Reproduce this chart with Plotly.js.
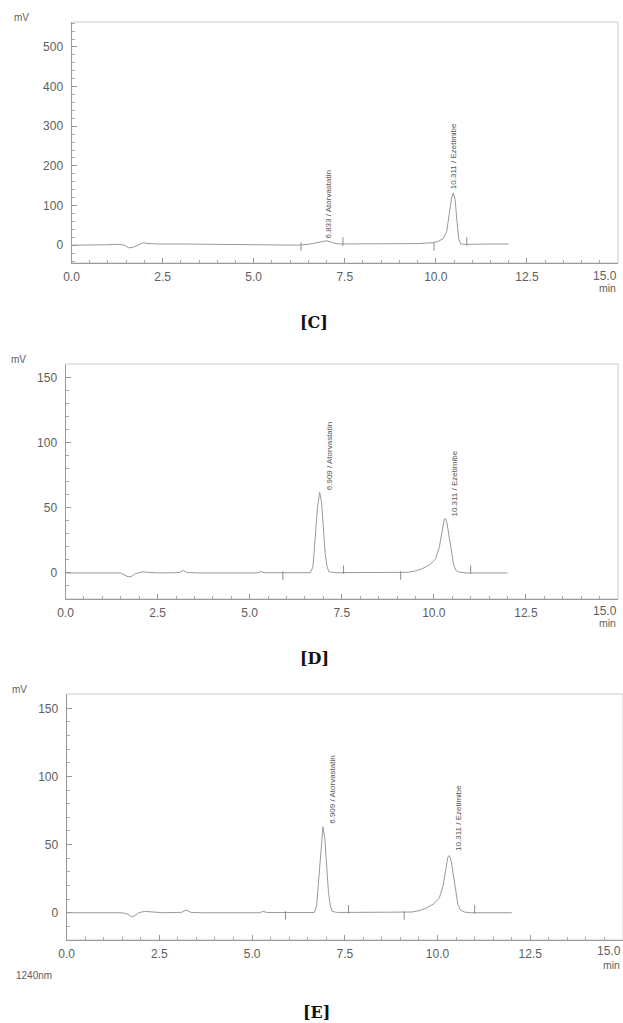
<!DOCTYPE html>
<html>
<head>
<meta charset="utf-8">
<script src="https://cdn.plot.ly/plotly-3.0.1.min.js"></script>
<style>html,body{margin:0;padding:0;background:#fff;}#chart{width:623px;height:1023px;}</style>
</head>
<body>
<div id="chart"></div>
<script>
// ---------- DATA ----------
const xTickVals = [0, 2.5, 5, 7.5, 10, 12.5, 15];
const xTickText = ['0.0', '2.5', '5.0', '7.5', '10.0', '12.5', '15.0'];

// Panel [C]
const timeC = [0, 0.5, 1.0, 1.15, 1.3, 1.45, 1.58, 1.7, 1.85, 1.97, 2.1, 2.4, 3.0, 4.0, 4.5, 5.5, 6.2, 6.5, 6.7, 6.85, 7.0, 7.1, 7.2, 7.35, 7.6, 8.5, 9.5, 9.9, 10.05, 10.2, 10.3, 10.37, 10.43, 10.48, 10.53, 10.58, 10.63, 10.68, 10.8, 11.5, 12.0];
const signalC = [0, 0, 1, 2, 2, 0, -7, -5, 2, 6, 4, 3, 3, 2, 1, 1, 0, 2, 6, 9, 11, 9, 5, 3, 3, 3, 4, 6, 9, 16, 35, 80, 118, 132, 115, 60, 15, 3, 2, 3, 3];
const markTimeC = [6.3, 7.45, 9.95, 10.85];
const markLevelC = [-4, 9, -4, 9];
const peakTimeC = [6.95, 10.48];
const peakHeightC = [11, 132];
const peakLabelC = ['6.833 / Atorvastatin', '10.311 / Ezetimibe'];

// Panel [D]
const timeD = [0, 1.5, 1.7, 1.8, 1.9, 2.1, 2.3, 2.6, 3.1, 3.2, 3.3, 3.6, 5.2, 5.3, 5.4, 5.9, 6.1, 6.3, 6.65, 6.72, 6.78, 6.84, 6.9, 6.95, 7.0, 7.05, 7.1, 7.15, 7.3, 9.1, 9.3, 9.5, 9.7, 9.9, 10.05, 10.15, 10.22, 10.28, 10.31, 10.36, 10.42, 10.48, 10.54, 10.6, 10.7, 10.9, 12.0];
const signalD = [0, 0, -3, -2.5, -0.5, 0.8, 0.3, 0, 0.3, 2, 0.3, 0, 0, 1, 0.2, 0, 0.4, 0.2, 0.2, 5, 25, 50, 62, 55, 35, 15, 5, 1, 0.2, 0, 0.5, 1.5, 3.5, 6.5, 11, 20, 32, 41, 42, 38, 27, 15, 6, 2, 0.5, 0, 0];
const markTimeD = [5.9, 7.55, 9.1, 11.0];
const markLevelD = [-2, 2.5, -2, 2.5];
const peakTimeD = [6.909, 10.311];
const peakHeightD = [62, 42];
const peakLabelD = ['6.909 / Atorvastatin', '10.311 / Ezetimibe'];

// Panel [E]
const timeE = [0, 1.5, 1.65, 1.75, 1.85, 1.95, 2.1, 2.3, 2.6, 3.1, 3.22, 3.35, 3.6, 5.2, 5.3, 5.4, 5.9, 6.1, 6.3, 6.68, 6.74, 6.8, 6.86, 6.91, 6.96, 7.01, 7.06, 7.11, 7.16, 7.3, 9.1, 9.3, 9.5, 9.7, 9.9, 10.05, 10.15, 10.22, 10.28, 10.32, 10.37, 10.43, 10.49, 10.55, 10.62, 10.72, 10.9, 12.0];
const signalE = [0, 0, -1, -3, -2, 0, 1, 0.4, 0, 0.3, 2, 0.3, 0, 0, 1, 0.2, 0, 0.4, 0.2, 0.2, 5, 25, 50, 63, 55, 35, 15, 5, 1, 0.2, 0, 0.5, 1.5, 3.5, 6.5, 11, 20, 32, 41, 42, 38, 27, 15, 6, 2, 0.5, 0, 0];
const markTimeE = [5.9, 7.6, 9.1, 11.0];
const markLevelE = [-2, 2.5, -2, 2.5];
const peakTimeE = [6.91, 10.32];
const peakHeightE = [63, 42];
const peakLabelE = ['6.909 / Atorvastatin', '10.311 / Ezetimibe'];

const panelTitles = ['[C]', '[D]', '[E]'];
const yUnit = 'mV';
const xUnit = 'min';
const detector = '1240nm';

// ---------- LAYOUT HELPERS ----------
const W = 623, H = 1023;
const px = x => x / W;
const py = y => 1 - y / H;
const lineCol = '#999999';
const txtCol = '#5e5e5e';
const FONT = 'Liberation Sans, Arial, sans-serif';

function trace(t, s, xa, ya) {
  return {x: t, y: s, xaxis: xa, yaxis: ya, type: 'scatter', mode: 'lines',
          line: {color: lineCol, width: 1}, hoverinfo: 'skip'};
}
function marks(t, s, xa, ya) {
  return {x: t, y: s, xaxis: xa, yaxis: ya, type: 'scatter', mode: 'markers',
          marker: {symbol: 'line-ns-open', size: 6, color: '#8a8a8a', line: {color: '#8a8a8a', width: 1}}, hoverinfo: 'skip'};
}

const data = [
  trace(timeC, signalC, 'x', 'y'), marks(markTimeC, markLevelC, 'x', 'y'),
  trace(timeD, signalD, 'x2', 'y2'), marks(markTimeD, markLevelD, 'x2', 'y2'),
  trace(timeE, signalE, 'x3', 'y3'), marks(markTimeE, markLevelE, 'x3', 'y3')
];

function xAxis(domain, anchor) {
  return {
    domain: domain, anchor: anchor, range: [0, 15],
    tickmode: 'array', tickvals: xTickVals.slice(0, 6), ticktext: xTickText.slice(0, 6),
    ticks: 'inside', ticklen: 5, tickcolor: '#9a9a9a',
    minor: {dtick: 0.5, ticks: 'inside', ticklen: 3, tickcolor: '#aaaaaa'},
    showline: true, linecolor: '#9a9a9a', linewidth: 1,
    showgrid: false, zeroline: false,
    tickfont: {family: FONT, size: 12, color: txtCol}, ticklabelstandoff: 3
  };
}
function yAxis(domain, anchor, range, dtick, minor) {
  return {
    domain: domain, anchor: anchor, range: range, dtick: dtick,
    ticks: 'inside', ticklen: 5, tickcolor: '#9a9a9a',
    minor: {dtick: minor, ticks: 'inside', ticklen: 3, tickcolor: '#aaaaaa'},
    showline: true, linecolor: '#9a9a9a', linewidth: 1,
    showgrid: false, zeroline: false,
    tickfont: {family: FONT, size: 12, color: txtCol}, ticklabelstandoff: 5
  };
}

const annotations = [];
function peakLabels(times, heights, labels, xa, ya, dx, dy) {
  for (let i = 0; i < times.length; i++) {
    annotations.push({x: times[i], y: heights[i], xref: xa, yref: ya, text: labels[i],
      textangle: -90, showarrow: false, xanchor: 'center', yanchor: 'middle',
      xshift: dx[i], yshift: dy[i], font: {family: FONT, size: 8, color: '#555555'}});
  }
}
peakLabels(peakTimeC, peakHeightC, peakLabelC, 'x', 'y', [4, 1], [37, 37]);
peakLabels(peakTimeD, peakHeightD, peakLabelD, 'x2', 'y2', [9, 9], [37, 35]);
peakLabels(peakTimeE, peakHeightE, peakLabelE, 'x3', 'y3', [10, 9], [38, 38]);

function paperText(text, x, y, opts) {
  annotations.push(Object.assign({text: text, x: px(x), y: py(y), xref: 'paper', yref: 'paper',
    showarrow: false, xanchor: 'center', yanchor: 'middle',
    font: {family: FONT, size: 10, color: txtCol}}, opts || {}));
}
const tickFont = {family: FONT, size: 12, color: txtCol};
const unitFont = {family: FONT, size: 10.5, color: txtCol};
// unit labels
paperText(yUnit, 21, 18);
paperText(yUnit, 18, 359);
paperText(yUnit, 19, 689);
// last x tick label, pulled inside the page like the reference
paperText(xTickText[6], 619, 276, {xanchor: 'right', font: tickFont});
paperText(xTickText[6], 619, 611, {xanchor: 'right', font: tickFont});
paperText(xTickText[6], 623, 951, {xanchor: 'right', font: tickFont});
paperText(xUnit, 618, 288, {xanchor: 'right', font: unitFont});
paperText(xUnit, 618, 623, {xanchor: 'right', font: unitFont});
paperText(xUnit, 622, 964.5, {xanchor: 'right', font: unitFont});
paperText(detector, 34, 975, {font: {family: FONT, size: 10, color: txtCol}});
// panel captions
const capFont = {family: 'DejaVu Serif, serif', size: 16, color: '#111'};
paperText('<b>' + panelTitles[0] + '</b>', 314, 323, {font: capFont});
paperText('<b>' + panelTitles[1] + '</b>', 314, 658, {font: capFont});
paperText('<b>' + panelTitles[2] + '</b>', 316, 1012, {font: capFont});

function frame(xr, yr) {
  return {type: 'rect', xref: xr + ' domain', yref: yr + ' domain', x0: 0, x1: 1, y0: 0, y1: 1,
          line: {color: '#cccccc', width: 1}, layer: 'below'};
}

const layout = {
  width: W, height: H,
  margin: {l: 0, r: 0, t: 0, b: 0},
  paper_bgcolor: '#ffffff', plot_bgcolor: '#ffffff',
  showlegend: false,
  xaxis: xAxis([px(71.5), px(618)], 'y'),
  yaxis: yAxis([py(263), py(22)], 'x', [-45, 563], 100, 20),
  xaxis2: xAxis([px(65.5), px(618)], 'y2'),
  yaxis2: yAxis([py(599), py(364)], 'x2', [-20, 160.5], 50, 10),
  xaxis3: xAxis([px(66.6), 1], 'y3'),
  yaxis3: yAxis([py(940), py(694)], 'x3', [-20, 160.5], 50, 10),
  shapes: [frame('x', 'y'), frame('x2', 'y2'), frame('x3', 'y3')],
  annotations: annotations
};

Plotly.newPlot('chart', data, layout, {staticPlot: true, displayModeBar: false});
</script>
</body>
</html>
